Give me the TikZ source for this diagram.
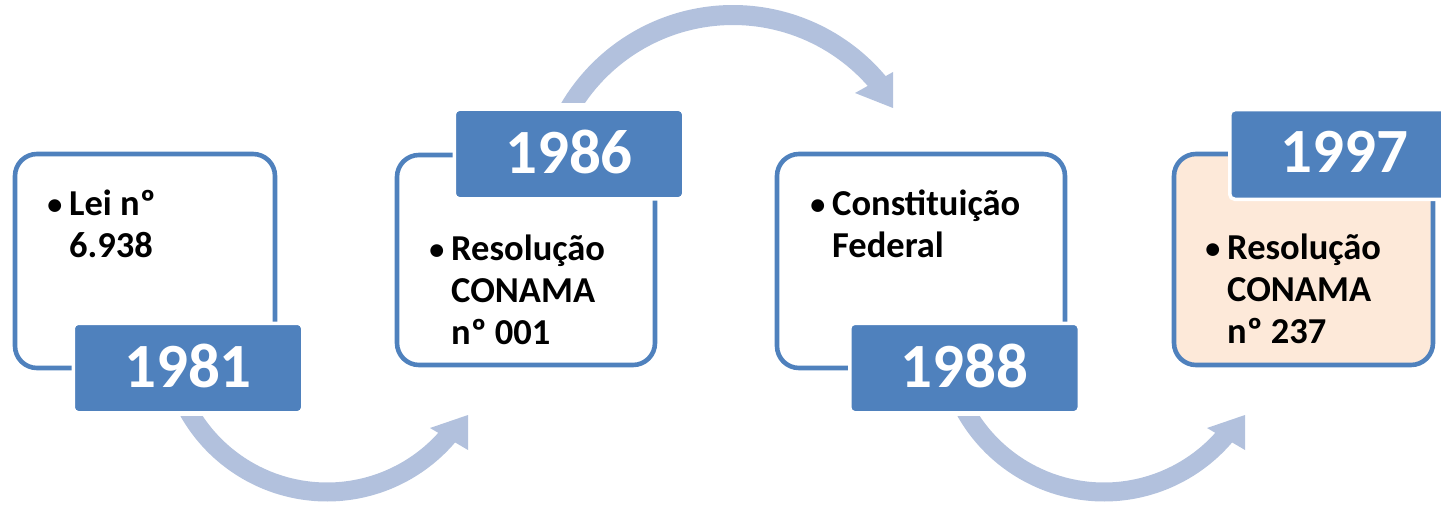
\documentclass[tikz,border=0pt]{standalone}
\usepackage{fontspec}
\setmainfont{Carlito}
\definecolor{accentblue}{RGB}{79,129,189}
\definecolor{arrowblue}{RGB}{178,193,221}
\definecolor{peach}{RGB}{253,233,217}
\begin{document}
\begin{tikzpicture}[x=1pt,y=1pt,
  panel/.style={draw=accentblue, line width=4.6pt, rounded corners=22pt, fill=white, inner sep=0pt},
  yearbox/.style={fill=accentblue, draw=white, line width=3.5pt, rounded corners=5pt,
    minimum width=229.5pt, minimum height=89.5pt, inner sep=0pt, text depth=5pt, text=white,
    font=\bfseries\fontsize{63}{63}\selectfont},
  itemtext/.style={anchor=base west, inner sep=0pt, font=\bfseries\fontsize{36.5}{42}\selectfont},
  arrowshape/.style={fill=arrowblue, draw=none}]
\useasboundingbox (0,0) rectangle (1441,-508);
\clip (0,0) rectangle (1441,-508);

% ---- curved arrows ----
% arrow 1981 -> 1986 (below)
\begin{scope}
  \clip (0,-416) -- (420,-416) -- (420,-300) -- (800,-300) -- (800,-520) -- (0,-520) -- cycle;
  \coordinate (c1) at (327,-333);
  \fill[arrowshape] ([shift={(c1)}]205:168.5) arc[start angle=205, end angle=319.5, radius=168.5]
    -- (468,-450) -- (468,-415) -- (430,-428)
    -- ([shift={(c1)}]318.1:149.5) arc[start angle=318.1, end angle=205, radius=149.5] -- cycle;
\end{scope}
% arrow 1988 -> 1997 (below)
\begin{scope}
  \clip (777,-416) -- (1197,-416) -- (1197,-300) -- (1441,-300) -- (1441,-520) -- (777,-520) -- cycle;
  \coordinate (c3) at (1104,-333);
  \fill[arrowshape] ([shift={(c3)}]205:168.5) arc[start angle=205, end angle=319.5, radius=168.5]
    -- (1245,-450) -- (1245,-415) -- (1207,-428)
    -- ([shift={(c3)}]318.1:149.5) arc[start angle=318.1, end angle=205, radius=149.5] -- cycle;
\end{scope}
% arrow 1986 -> 1988 (above)
\begin{scope}
  \clip (0,-103) -- (650,-103) -- (650,-300) -- (1441,-300) -- (1441,10) -- (0,10) -- cycle;
  \coordinate (c2) at (733,-204.5);
  \fill[arrowshape] ([shift={(c2)}]155:199.5) arc[start angle=155, end angle=40.06, radius=199.5]
    -- (893,-72) -- (893,-108) -- (855,-93)
    -- ([shift={(c2)}]41.35:179.5) arc[start angle=41.35, end angle=155, radius=179.5] -- cycle;
\end{scope}

% ---- panels ----
\node[panel, minimum width=260pt, minimum height=214pt] (p1) at (145,-261) {};
\node[panel, minimum width=258pt, minimum height=210pt] (p2) at (526,-260) {};
\node[panel, minimum width=288pt, minimum height=214pt] (p3) at (921,-261) {};
\node[panel, fill=peach, minimum width=259pt, minimum height=211pt] (p4) at (1303.5,-259.5) {};

% ---- year boxes ----
\node[yearbox] (y1) at (188,-368) {1981};
\node[yearbox] (y2) at (569,-154) {1986};
\node[yearbox] (y3) at (964.5,-368) {1988};
\node[yearbox] (y4) at (1344.5,-154.5) {1997};

% ---- item texts ----
\newcommand{\itembullet}{\llap{\raisebox{1pt}{\fontsize{30}{30}\selectfont •}\hspace{7pt}}}
\node[itemtext] (t1) at (69,-215) {\begin{tabular}[t]{@{}l@{}}\itembullet Lei nº\\6.938\end{tabular}};
\node[itemtext] (t2) at (451,-260) {\begin{tabular}[t]{@{}l@{}}\itembullet Resolução\\CONAMA\\nº 001\end{tabular}};
\node[itemtext] (t3) at (832,-215) {\begin{tabular}[t]{@{}l@{}}\itembullet Constituição\\Federal\end{tabular}};
\node[itemtext] (t4) at (1227,-259) {\begin{tabular}[t]{@{}l@{}}\itembullet Resolução\\CONAMA\\nº 237\end{tabular}};
\end{tikzpicture}
\end{document}
